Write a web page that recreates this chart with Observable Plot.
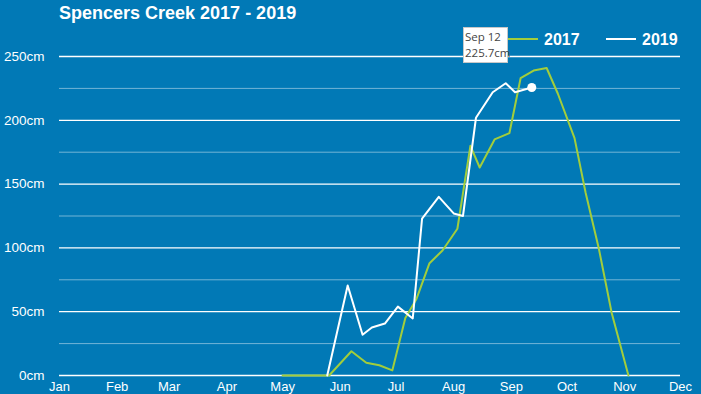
<!DOCTYPE html>
<html>
<head>
<meta charset="utf-8">
<script src="https://cdn.jsdelivr.net/npm/d3@7"></script>
<script src="https://cdn.jsdelivr.net/npm/@observablehq/plot@0.6"></script>
<style>
  html, body { margin: 0; padding: 0; background: #0179b6; }
  #wrap { position: relative; width: 701px; height: 394px; overflow: hidden; }
  #overlay { position: absolute; left: 0; top: 0; pointer-events: none; }
  #tip { position: absolute; left: 463px; top: 27px; width: 45px; height: 36px;
         background: #fff; border: 1px solid #c8c8c8; box-sizing: border-box;
         font-family: "Open Sans", sans-serif; font-size: 11.5px; color: #444; }
  #tip div { position: absolute; left: 1px; white-space: nowrap; }
</style>
</head>
<body>
<div id="wrap"></div>
<script>
// ---- data ----
const title = "Spencers Creek 2017 - 2019";
const months = ["Jan","Feb","Mar","Apr","May","Jun","Jul","Aug","Sep","Oct","Nov","Dec"];
const yTicks = [0, 50, 100, 150, 200, 250];
const yMinor = [25, 75, 125, 175, 225];

const series = ["2017", "2019"];
const colors = ["#a2cd3c", "#ffffff"];

const dates2017 = ["05-01","05-26","06-07","06-15","06-22","06-29","07-06","07-12","07-19","07-26",
                   "08-03","08-10","08-15","08-23","08-31","09-06","09-13","09-20","09-26","10-05",
                   "10-11","10-18","10-25","11-03"];
const depth2017 = [0, 0, 19, 10, 8, 4, 45, 60, 88, 98,
                   115, 180, 163, 185, 190, 233, 239, 241, 221, 186,
                   143, 100, 49, 0];

const dates2019 = ["05-25","06-05","06-13","06-18","06-25","07-02","07-10","07-15","07-24",
                   "08-01","08-06","08-13","08-22","08-29","09-03","09-12"];
const depth2019 = [0, 70.5, 32, 37.6, 40.7, 54, 44.7, 123, 140,
                   127, 125, 202, 222, 229, 222, 225.7];

const tipLabel = ["Sep 12", "225.7cm"];

// ---- build ----
const baseYear = 2017;
const toDate = s => { const [m, d] = s.split("-").map(Number); return new Date(Date.UTC(baseYear, m - 1, d)); };
const rows = [];
dates2017.forEach((d, i) => rows.push({series: "2017", date: toDate(d), depth: depth2017[i]}));
dates2019.forEach((d, i) => rows.push({series: "2019", date: toDate(d), depth: depth2019[i]}));
const last2019 = rows.filter(r => r.series === "2019").slice(-1);
const monthTicks = months.map((m, i) => new Date(Date.UTC(baseYear, i, 1)));

const chart = Plot.plot({
  width: 701,
  height: 394,
  marginLeft: 59,
  marginRight: 21,
  marginTop: 56,
  marginBottom: 19,
  style: { background: "#0179b6", color: "#ffffff", fontFamily: "'Liberation Sans', Arial, sans-serif" },
  x: { type: "utc", domain: [monthTicks[0], monthTicks[11]] },
  y: { domain: [0, 250] },
  color: { domain: series, range: colors },
  marks: [
    Plot.ruleY(yMinor, { stroke: "#ffffff", strokeOpacity: 0.45, strokeWidth: 1 }),
    Plot.ruleY(yTicks, { stroke: "#ffffff", strokeWidth: 1.3 }),
    Plot.axisY({ ticks: yTicks, tickSize: 0, tickPadding: 15, tickFormat: d => d + "cm",
                 fontSize: 13.5, label: null }),
    Plot.axisX({ ticks: monthTicks, tickSize: 0, tickPadding: 6,
                 tickFormat: d => months[d.getUTCMonth()], fontSize: 13, label: null }),
    Plot.line(rows, { x: "date", y: "depth", z: "series", stroke: "series", strokeWidth: 2,
                      strokeLinejoin: "round" }),
    Plot.dot(last2019, { x: "date", y: "depth", r: 4.5, fill: "#ffffff", stroke: "none" })
  ]
});
const wrap = document.getElementById("wrap");
wrap.appendChild(chart);

// overlay: title + legend
const ns = "http://www.w3.org/2000/svg";
const ov = document.createElementNS(ns, "svg");
ov.setAttribute("id", "overlay");
ov.setAttribute("width", 701);
ov.setAttribute("height", 394);
function txt(x, y, s, size, weight) {
  const t = document.createElementNS(ns, "text");
  t.setAttribute("x", x); t.setAttribute("y", y);
  t.setAttribute("fill", "#ffffff");
  t.setAttribute("font-family", "'Liberation Sans', Arial, sans-serif");
  t.setAttribute("font-size", size);
  t.setAttribute("font-weight", weight);
  t.textContent = s;
  ov.appendChild(t);
}
txt(59, 19, title, 18, "bold");
const legX = [508, 606];
series.forEach((s, i) => {
  const l = document.createElementNS(ns, "line");
  l.setAttribute("x1", legX[i]); l.setAttribute("x2", legX[i] + 30);
  l.setAttribute("y1", 39); l.setAttribute("y2", 39);
  l.setAttribute("stroke", colors[i]); l.setAttribute("stroke-width", 2);
  ov.appendChild(l);
  txt(legX[i] + 36, 45, s, 16, "bold");
});
wrap.appendChild(ov);

// tooltip
const tip = document.createElement("div");
tip.id = "tip";
tip.innerHTML = `<div style="top:1px">${tipLabel[0]}</div><div style="top:17px">${tipLabel[1]}</div>`;
wrap.appendChild(tip);
</script>
</body>
</html>
